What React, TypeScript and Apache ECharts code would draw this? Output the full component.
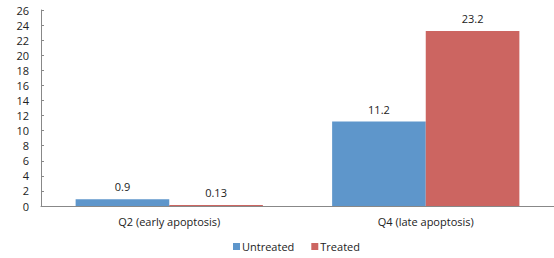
import React, { useEffect, useRef } from "react";
import * as echarts from "echarts";

const categories = ["Q2 (early apoptosis)", "Q4 (late apoptosis)"];
const untreated = [0.9, 11.2];
const treated = [0.13, 23.2];
const seriesNames = ["Untreated", "Treated"];

export default function App() {
  const ref = useRef<HTMLDivElement>(null);
  useEffect(() => {
    if (!ref.current) return;
    const chart = echarts.init(ref.current, null, { renderer: "svg" });
    const font = "'Open Sans', sans-serif";
    const labelStyle = {
      show: true,
      position: "top" as const,
      distance: 7,
      color: "#222",
      fontSize: 11,
      fontFamily: font,
    };
    chart.setOption({
      animation: false,
      grid: { left: 41, top: 10, width: 524, height: 196, containLabel: false },
      legend: {
        bottom: 1,
        left: 228,
        icon: "rect",
        itemWidth: 7,
        itemHeight: 7,
        itemGap: 17,
        textStyle: { color: "#222", fontSize: 11, fontFamily: font, padding: [0, 0, 0, -3] },
        data: seriesNames,
      },
      xAxis: {
        type: "category",
        data: categories,
        axisLine: { lineStyle: { color: "#888", width: 1 } },
        axisTick: { show: false },
        axisLabel: { color: "#222", fontSize: 11, fontFamily: font, margin: 10 },
      },
      yAxis: {
        type: "value",
        min: 0,
        max: 26,
        interval: 2,
        splitLine: { show: false },
        axisLine: { show: true, lineStyle: { color: "#888", width: 1 } },
        axisTick: { show: true, inside: true, length: 3, lineStyle: { color: "#888" } },
        axisLabel: { color: "#222", fontSize: 11, fontFamily: font, margin: 12 },
      },
      series: [
        {
          name: seriesNames[0],
          type: "bar",
          data: untreated,
          barGap: "0%",
          barCategoryGap: "27%",
          itemStyle: { color: "#5E96CB" },
          label: labelStyle,
        },
        {
          name: seriesNames[1],
          type: "bar",
          data: treated,
          barGap: "0%",
          barCategoryGap: "27%",
          itemStyle: { color: "#CC6561" },
          label: labelStyle,
        },
      ],
    });
    return () => chart.dispose();
  }, []);
  return (
    <div
      ref={ref}
      style={{ position: "absolute", left: 0, top: 0, width: 554, height: 258 }}
    />
  );
}
